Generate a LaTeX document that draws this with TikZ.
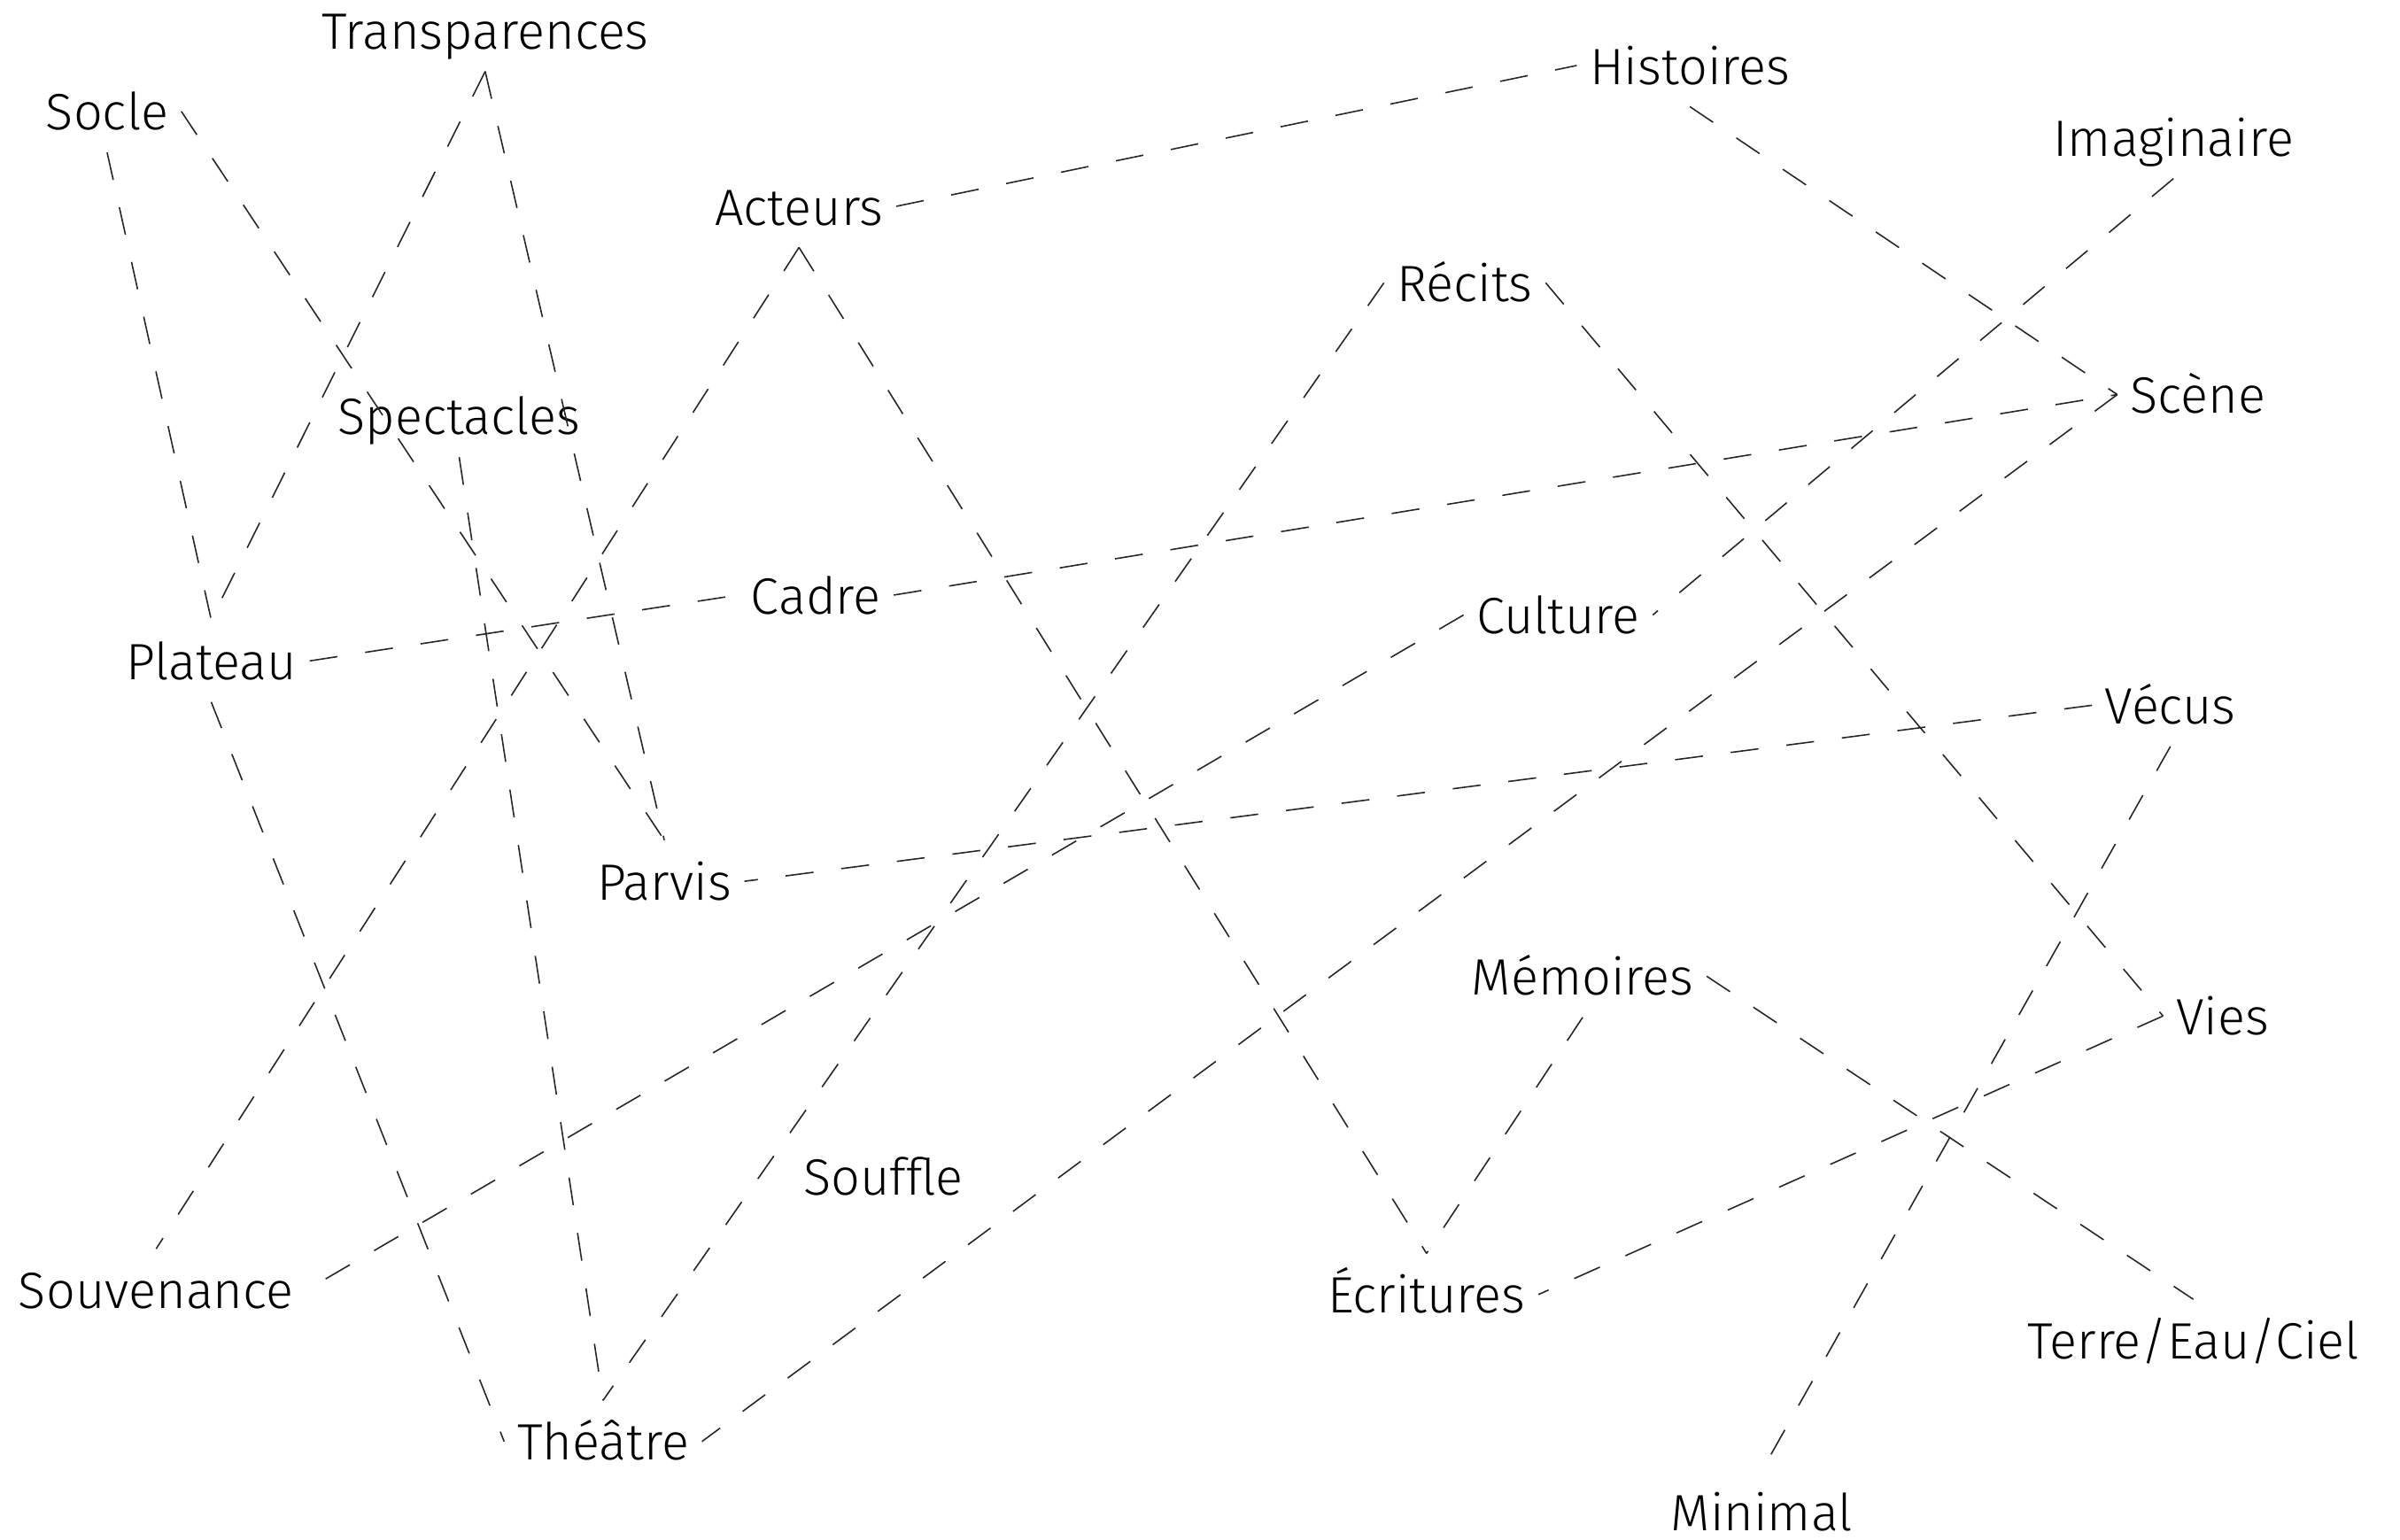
\documentclass[tikz,border=0pt]{standalone}
\usepackage{fontspec}
\setmainfont{Fira Sans}[UprightFont=* Light]
\begin{document}
\begin{tikzpicture}[x=0.01728cm,y=-0.01728cm]
        % Define word and link properties
        \def\wordsize{16.4}          % Size of the words
        \def\linkcolor{black!85}     % Dark grey links
        \def\linkwidth{0.45pt}
        \tikzset{
            word/.style={
                inner xsep=4pt,
                inner ysep=4pt,
                text height=15pt,
                text depth=3pt,
                anchor=base,
                font=\fontsize{\wordsize}{20}\selectfont
            },
            link/.style={
                draw=\linkcolor,
                line width=\linkwidth,
                dash pattern=on 9pt off 9pt
            }
        }
        \useasboundingbox (0,0) rectangle (1568,1006);

        % Place the words (at their baselines)
        \node[word] (transparences) at (317,32) {Transparences};
        \node[word] (socle) at (70,85) {Socle};
        \node[word] (histoires) at (1104,55) {Histoires};
        \node[word] (imaginaire) at (1420,102) {Imaginaire};
        \node[word] (acteurs) at (522,147) {Acteurs};
        \node[word] (recits) at (957,197) {Récits};
        \node[word] (scene) at (1436,270) {Scène};
        \node[word] (spectacles) at (300,284) {Spectacles};
        \node[word] (cadre) at (533,401) {Cadre};
        \node[word] (culture) at (1018,414) {Culture};
        \node[word] (plateau) at (138,444) {Plateau};
        \node[word] (vecus) at (1418,473) {Vécus};
        \node[word] (parvis) at (434,588) {Parvis};
        \node[word] (memoires) at (1034,650) {Mémoires};
        \node[word] (vies) at (1452,676) {Vies};
        \node[word] (souffle) at (577,781) {Souffle};
        \node[word] (souvenance) at (102,855) {Souvenance};
        \node[word] (ecritures) at (932,858) {Écritures};
        \node[word] (terre) at (1433,888) {Terre/Eau/Ciel};
        \node[word] (theatre) at (394,954) {Théâtre};
        \node[word] (minimal) at (1151,1000) {Minimal};

        % Draw the dashed links between words
        \draw[link] (socle.south) -- (plateau.north);
        \draw[link] (socle.east) -- (parvis.north);
        \draw[link] (transparences.south) -- (plateau.north);
        \draw[link] (transparences.south) -- (parvis.north);
        \draw[link] (acteurs.east) -- (histoires.west);
        \draw[link] (acteurs.south) -- (souvenance.north);
        \draw[link] (acteurs.south) -- (ecritures.north);
        \draw[link] (spectacles.south) -- (theatre.north);
        \draw[link] (plateau.east) -- (cadre.west);
        \draw[link] (cadre.east) -- (scene.west);
        \draw[link] (plateau.south) -- (theatre.west);
        \draw[link] (recits.west) -- (theatre.north);
        \draw[link] (recits.east) -- (vies.west);
        \draw[link] (histoires.south) -- (scene.west);
        \draw[link] (imaginaire.south) -- (culture.east);
        \draw[link] (scene.west) -- (theatre.east);
        \draw[link] (culture.west) -- (souvenance.east);
        \draw[link] (vecus.west) -- (parvis.east);
        \draw[link] (vecus.south) -- (minimal.north);
        \draw[link] (memoires.south) -- (ecritures.north);
        \draw[link] (memoires.east) -- (terre.north);
        \draw[link] (vies.west) -- (ecritures.east);
    \end{tikzpicture}
\end{document}
